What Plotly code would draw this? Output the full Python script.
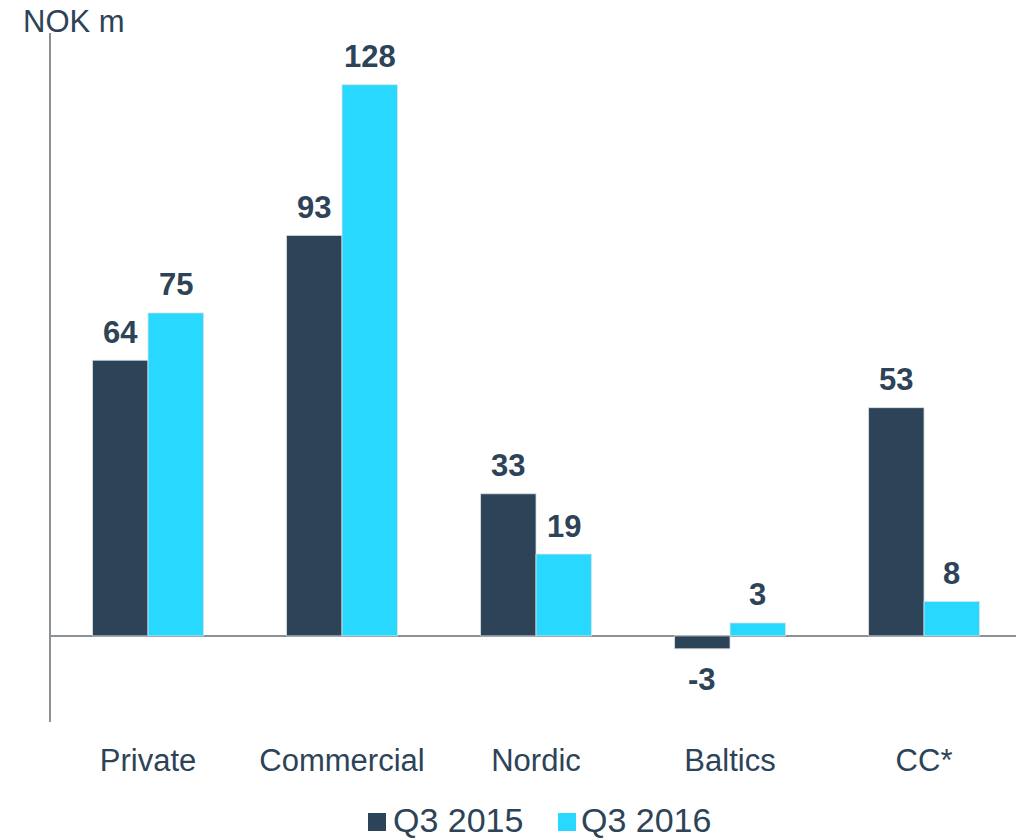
import plotly.graph_objects as go

# Segment results, NOK million
categories = ["Private", "Commercial", "Nordic", "Baltics", "CC*"]
q3_2015 = [64, 93, 33, -3, 53]
q3_2016 = [75, 128, 19, 3, 8]
series_names = ["Q3 2015", "Q3 2016"]
unit_label = "NOK m"

DARK = "#2D4357"
CYAN = "#29D8FF"
TEXT = "#2D4357"
AXIS = "#8C9196"
FONT = "Liberation Sans, Arial, sans-serif"

BARGAP = 0.428
half = (1 - BARGAP) / 4  # offset from category centre to each bar centre

fig = go.Figure()
for name, vals, col in [(series_names[0], q3_2015, DARK), (series_names[1], q3_2016, CYAN)]:
    fig.add_trace(go.Bar(
        x=categories, y=vals, name=name, showlegend=False,
        marker=dict(color=col, line=dict(color="#DDE1E4", width=0.8)),
    ))

# value labels above (or below, for negatives) each bar
annotations = []
for vals, off in [(q3_2015, -half), (q3_2016, half)]:
    for i, v in enumerate(vals):
        annotations.append(dict(
            x=i + off, y=v, xref="x", yref="y", text=f"<b>{v}</b>",
            showarrow=False, yanchor="middle",
            yshift=28 if v >= 0 else -31,
            font=dict(family=FONT, size=31, color=TEXT),
        ))

# unit label
annotations.append(dict(
    x=-0.031, y=1.016, xref="paper", yref="paper", text=unit_label,
    showarrow=False, xanchor="left", yanchor="middle",
    font=dict(family=FONT, size=31, color=TEXT),
))

# legend: coloured squares with series names
W, L, T, B = 1016, 51, 33, 722
pw, ph = W - L, B - T
def px(x):
    return (x - L) / pw
def py(y):
    return (B - y) / ph

shapes = []
for (sq_x, txt_x), name, col in zip([(368, 391), (558, 579)], series_names, [DARK, CYAN]):
    shapes.append(dict(
        type="rect", xref="paper", yref="paper",
        x0=px(sq_x), x1=px(sq_x + 18), y0=py(831), y1=py(813),
        fillcolor=col, line=dict(width=0),
    ))
    annotations.append(dict(
        x=px(txt_x), y=py(820), xref="paper", yref="paper", text=name,
        showarrow=False, xanchor="left", yanchor="middle",
        font=dict(family=FONT, size=34, color=TEXT),
    ))

fig.update_layout(
    width=1016, height=838,
    margin=dict(l=L, r=0, t=T, b=838 - B),
    paper_bgcolor="white", plot_bgcolor="white",
    barmode="group", bargap=BARGAP, bargroupgap=0,
    font=dict(family=FONT, size=31, color=TEXT),
    annotations=annotations, shapes=shapes,
    showlegend=False,
    xaxis=dict(
        range=[-0.5, 4.474], showline=False, showgrid=False, ticks="",
        tickfont=dict(family=FONT, size=31, color=TEXT),
        ticklabelstandoff=17,
    ),
    yaxis=dict(
        range=[-20, 140], showline=True, linecolor=AXIS, linewidth=2,
        showgrid=False, showticklabels=False, ticks="",
        zeroline=True, zerolinecolor=AXIS, zerolinewidth=2,
    ),
)

fig.write_html("out.html")
